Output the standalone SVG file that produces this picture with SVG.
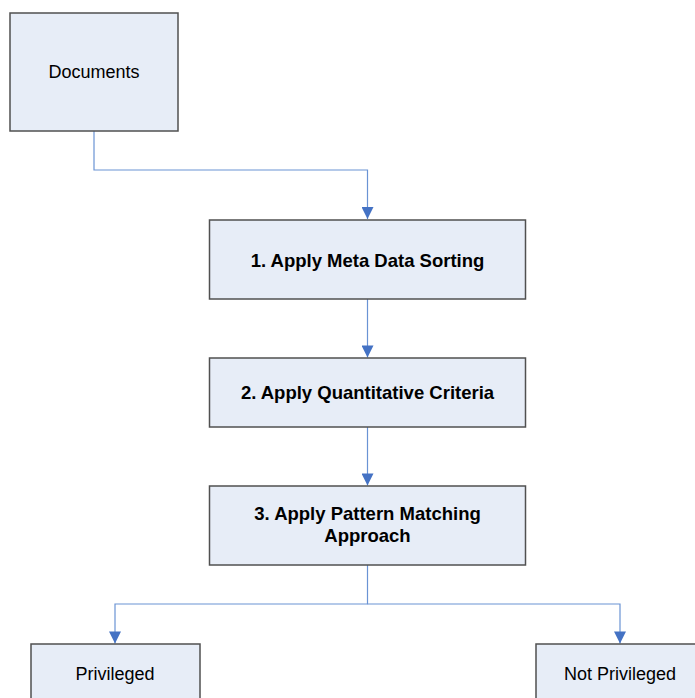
<svg xmlns="http://www.w3.org/2000/svg" width="695" height="698" viewBox="0 0 695 698">
<style>
.box{fill:#E7EDF7;stroke:#505050;stroke-width:1.5}
.t{font-family:"Liberation Sans",Arial,sans-serif;font-size:18px;fill:#000;text-anchor:middle}
.b{font-weight:bold;font-size:18.5px}
.c{fill:none;stroke:#6A93D4;stroke-width:1.2}
</style>
<defs>
<marker id="ah" markerUnits="userSpaceOnUse" markerWidth="13" markerHeight="12" refX="13" refY="6.5" orient="auto" viewBox="0 0 13 13">
<path d="M0,0 L13,6.5 L0,13 Z" fill="#4472C4"/>
</marker>
</defs>
<rect width="695" height="698" fill="#fff"/>
<g id="connectors">
<path class="c" d="M94,131 V170 H367.5 V219" marker-end="url(#ah)"/>
<path class="c" d="M367.5,299 V357.5" marker-end="url(#ah)"/>
<path class="c" d="M367.5,427 V485.5" marker-end="url(#ah)"/>
<path class="c" d="M367.5,565 V604 H115 V643.5" marker-end="url(#ah)"/>
<path class="c" d="M367.5,604 H620 V643.5" marker-end="url(#ah)"/>
</g>
<g id="documents">
<rect class="box" x="10" y="13" width="168" height="118"/>
<text class="t" x="94" y="77.5">Documents</text>
</g>
<g id="step1">
<rect class="box" x="209.5" y="220" width="316" height="79"/>
<text class="t b" x="367.5" y="266.5">1. Apply Meta Data Sorting</text>
</g>
<g id="step2">
<rect class="box" x="209.5" y="358" width="316" height="69"/>
<text class="t b" x="367.5" y="398.5">2. Apply Quantitative Criteria</text>
</g>
<g id="step3">
<rect class="box" x="209.5" y="486" width="316" height="79"/>
<text class="t b" x="367.5" y="520">3. Apply Pattern Matching</text>
<text class="t b" x="367.5" y="541.5">Approach</text>
</g>
<g id="privileged">
<rect class="box" x="31" y="644" width="169" height="70"/>
<text class="t" x="115" y="680">Privileged</text>
</g>
<g id="not-privileged">
<rect class="box" x="536" y="644" width="169" height="70"/>
<text class="t" x="620" y="680">Not Privileged</text>
</g>
</svg>
